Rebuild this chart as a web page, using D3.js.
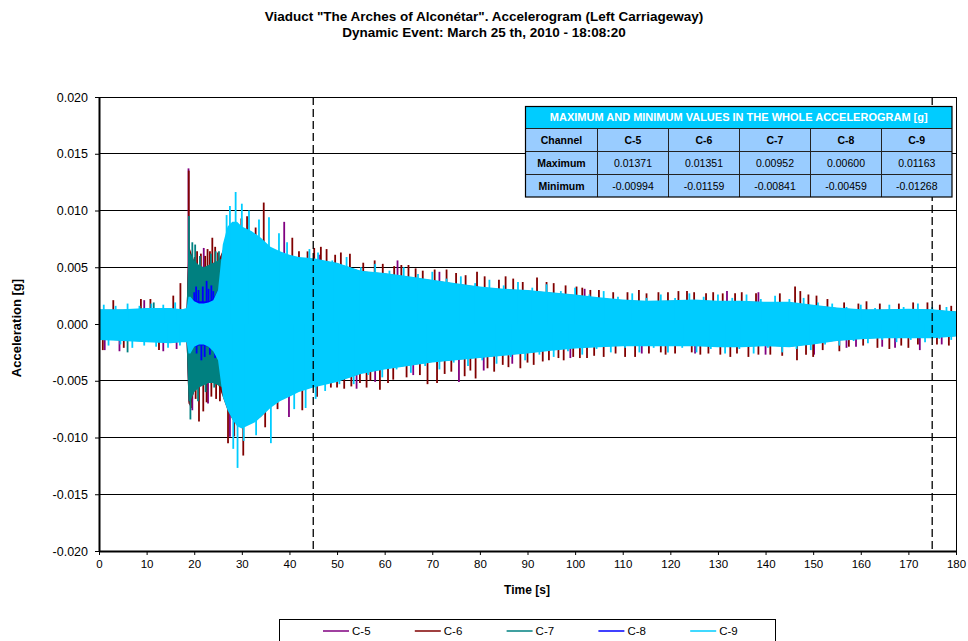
<!DOCTYPE html>
<html>
<head>
<meta charset="utf-8">
<script src="https://cdn.jsdelivr.net/npm/d3@7"></script>
<style>
body { margin: 0; background: #fff; }
svg { display: block; font-family: "Liberation Sans", Arial, sans-serif; }
</style>
</head>
<body>
<svg width="968" height="641"></svg>
<script>
// all series values are in milli-g (1e-3 g)
const channels = ["C-5", "C-6", "C-7", "C-8", "C-9"];
const colors = ["#800080", "#800000", "#008080", "#0000ff", "#00ccff"];

// time grid of the band bodies [s]
const envT = [0, 5, 10, 15, 17.5, 18.4, 18.8, 19.2,
  20, 21, 22, 23, 24, 25, 26, 27, 28, 29, 30, 31, 32, 33, 34,
  36, 38, 40, 42, 45,
  50, 55, 60, 65, 70, 75, 80, 85, 90, 95, 100, 105, 110, 115, 120, 125, 130, 135, 140, 145, 150, 155, 160, 165, 170, 175, 180];

const c5Top = [1.2, 1.2, 1.3, 1.3, 1.2, 1.3, 6.5, 6.0,
  5.4, 5.0, 4.8, 5.0, 5.2, 5.4, 6.2, 7.0, 7.6, 7.8, 7.8, 7.6, 7.6, 7.4, 7.3,
  6.5, 6.2, 5.9, 5.7, 5.6,
  5.3, 4.6, 4.4, 4.1, 3.8, 3.5, 3.2, 3.0, 2.9, 2.7, 2.5, 2.25, 2.05, 1.95, 2.0, 2.05, 1.95, 1.95, 1.85, 1.85, 1.6, 1.35, 1.2, 1.2, 1.25, 1.2, 1.0];
const c5Bot = [-1.3, -1.4, -1.5, -1.6, -1.5, -1.5, -6.8, -7.4,
  -5.8, -5.4, -5.2, -5.0, -5.0, -5.2, -6.2, -7.4, -8.2, -8.6, -8.6, -8.6, -8.4, -8.2, -8.0,
  -7.2, -6.6, -6.2, -5.8, -5.4,
  -5.0, -4.3, -3.9, -3.6, -3.3, -3.1, -2.9, -2.7, -2.5, -2.25, -2.05, -1.95, -1.85, -1.85, -1.85, -1.85, -1.95, -1.95, -1.85, -1.95, -1.7, -1.4, -1.25, -1.15, -1.15, -1.15, -1.0];

const c6Top = [1.25, 1.25, 1.35, 1.35, 1.25, 1.35, 7.0, 6.5,
  5.5, 5.1, 4.9, 5.1, 5.3, 5.5, 6.5, 7.5, 8.0, 8.2, 8.0, 8.0, 7.8, 7.6, 7.5,
  6.6, 6.3, 6.0, 5.8, 5.7,
  5.35, 4.65, 4.45, 4.15, 3.85, 3.55, 3.25, 3.05, 2.95, 2.75, 2.55, 2.3, 2.1, 2.0, 2.05, 2.1, 2.0, 2.0, 1.9, 1.9, 1.65, 1.4, 1.25, 1.25, 1.3, 1.25, 1.05];
const c6Bot = [-1.35, -1.45, -1.55, -1.65, -1.55, -1.55, -7.0, -7.2,
  -5.9, -5.5, -5.3, -5.1, -5.1, -5.3, -6.4, -7.6, -8.4, -8.8, -9.0, -8.8, -8.6, -8.4, -8.2,
  -7.3, -6.7, -6.3, -5.9, -5.5,
  -5.05, -4.35, -3.95, -3.65, -3.35, -3.15, -2.95, -2.75, -2.55, -2.3, -2.1, -2.0, -1.9, -1.9, -1.9, -1.9, -2.0, -2.0, -1.9, -2.0, -1.75, -1.45, -1.3, -1.2, -1.2, -1.2, -1.05];

const c7Top = [1.2, 1.2, 1.3, 1.3, 1.2, 1.3, 6.8, 6.2,
  5.6, 5.2, 5.0, 5.2, 5.4, 5.6, 5.8, 6.0, 6.2, 6.0, 5.8, 5.6, 5.4, 5.2, 5.0,
  4.6, 4.3, 4.1, 4.0, 3.9,
  3.6, 3.3, 3.1, 2.9, 2.8, 2.6, 2.5, 2.4, 2.3, 2.2, 2.0, 1.9, 1.8, 1.7, 1.7, 1.7, 1.7, 1.7, 1.6, 1.6, 1.5, 1.3, 1.2, 1.2, 1.2, 1.2, 1.1];
const c7Bot = [-1.3, -1.4, -1.5, -1.5, -1.5, -1.5, -6.8, -6.8,
  -6.0, -5.6, -5.4, -5.2, -5.2, -5.4, -5.6, -6.0, -6.2, -6.2, -6.0, -5.8, -5.6, -5.4, -5.2,
  -4.8, -4.5, -4.3, -4.1, -4.0,
  -3.7, -3.4, -3.2, -3.0, -2.8, -2.6, -2.5, -2.4, -2.2, -2.1, -2.0, -1.9, -1.8, -1.8, -1.8, -1.8, -1.8, -1.8, -1.7, -1.7, -1.6, -1.4, -1.3, -1.2, -1.2, -1.2, -1.05];

const c8Top = [1.0, 1.0, 1.1, 1.1, 1.0, 1.0, 2.3, 2.3,
  2.1, 2.0, 2.0, 2.0, 2.2, 3.0, 4.0, 4.4, 4.6, 4.4, 4.2, 4.0, 3.8, 3.6, 3.4,
  3.1, 2.9, 2.7, 2.6, 2.5,
  2.3, 2.1, 2.0, 1.9, 1.8, 1.7, 1.6, 1.5, 1.5, 1.4, 1.3, 1.3, 1.2, 1.2, 1.2, 1.2, 1.2, 1.2, 1.1, 1.1, 1.0, 0.9, 0.8, 0.8, 0.8, 0.8, 0.7];
const c8Bot = [-1.0, -1.0, -1.1, -1.1, -1.0, -1.0, -2.2, -2.2,
  -2.0, -1.9, -1.9, -2.0, -2.2, -3.0, -3.4, -3.6, -3.7, -3.6, -3.5, -3.3, -3.2, -3.0, -2.9,
  -2.7, -2.5, -2.4, -2.3, -2.2,
  -2.0, -1.9, -1.8, -1.7, -1.6, -1.5, -1.4, -1.4, -1.3, -1.3, -1.2, -1.2, -1.1, -1.1, -1.1, -1.1, -1.1, -1.1, -1.0, -1.0, -0.9, -0.8, -0.8, -0.8, -0.8, -0.8, -0.7];

const c9Top = [1.3, 1.3, 1.4, 1.4, 1.3, 1.4, 2.4, 2.4,
  2.0, 1.8, 1.8, 1.9, 2.1, 3.0, 7.0, 8.6, 9.0, 9.0, 8.6, 8.4, 8.2, 7.9, 7.6,
  6.8, 6.4, 6.1, 5.9, 5.8,
  5.4, 4.7, 4.5, 4.2, 3.9, 3.6, 3.3, 3.1, 3.0, 2.8, 2.6, 2.35, 2.15, 2.05, 2.1, 2.15, 2.05, 2.05, 1.95, 1.95, 1.7, 1.45, 1.3, 1.3, 1.35, 1.3, 1.1];
const c9Bot = [-1.4, -1.5, -1.6, -1.7, -1.6, -1.6, -2.6, -2.6,
  -2.0, -1.8, -1.8, -2.0, -2.4, -3.2, -6.4, -7.6, -8.4, -9.0, -9.2, -9.0, -8.8, -8.6, -8.2,
  -7.4, -6.8, -6.4, -6.0, -5.6,
  -5.1, -4.4, -4.0, -3.7, -3.4, -3.2, -3.0, -2.8, -2.6, -2.35, -2.15, -2.05, -1.95, -1.95, -1.95, -1.95, -2.05, -2.05, -1.95, -2.05, -1.8, -1.5, -1.35, -1.25, -1.25, -1.25, -1.1];

// single peaks standing out of the bands [t s, mg]
const c5Peaks = [[1.2, -2.3], [4.3, -2.4], [9.5, 2.1], [13.5, -2.4], [16.3, -2.2], [18.8, 13.71], [19.2, 6.1], [19.6, -7.6],
  [22.0, 6.7], [22.9, -7.0], [27.5, -9.94], [32.2, -8.3], [38.9, 9.0], [39.9, -8.2], [46.2, 6.1], [54.1, -5.7],
  [58.0, -5.1], [62.7, 5.6], [66.0, -4.5], [71.5, 4.6], [75.6, -5.1], [80.8, -4.1], [86.8, -3.5], [99.0, -3.0],
  [102.0, 3.1], [114.0, -2.6], [125.2, -2.6], [131.9, 2.9], [138.5, 2.8], [140.0, -2.7], [150.2, -2.7], [157.0, -2.1],
  [159.0, -2.0], [164.5, -2.0], [167.2, -2.1], [172.4, -2.3], [177.0, -1.8]];
const c6Peaks = [[0.8, -2.3], [3.0, 2.1], [5.2, -2.1], [8.8, 2.2], [10.8, 2.2], [12.6, -2.3], [15.6, 2.5], [17.1, 3.6],
  [18.85, 13.51], [19.3, -7.4], [20.1, 5.9], [20.3, -6.6], [20.6, 6.4], [21.0, -8.6], [21.4, 6.2], [21.9, -7.7],
  [22.3, 6.0], [22.6, -6.9], [22.8, 6.6], [23.3, 6.4], [23.6, -6.4], [23.8, 7.6], [24.4, 6.8], [24.6, -6.6],
  [25.0, 6.3], [25.4, -6.8], [27.1, -10.5], [28.4, -9.9],
  [29.9, 9.3], [30.3, -11.59], [31.1, 9.5], [32.4, 7.9], [32.9, 8.5], [34.6, 10.7], [34.9, -9.1], [37.5, -7.5],
  [40.6, 7.6], [42.0, 6.4], [42.7, -7.6], [43.8, 6.4], [45.2, 6.7], [45.8, -6.4], [46.6, 6.8], [47.8, 6.6], [48.7, -5.6],
  [49.6, 6.1], [50.0, -5.6], [50.8, 6.3], [51.5, -5.7], [52.7, 6.2], [53.0, -5.5], [54.8, -5.2], [55.5, 5.4],
  [56.2, -5.6], [57.0, -5.0], [57.9, 5.6], [59.0, -5.8], [59.6, 5.3], [60.7, -5.2], [61.8, -4.9], [62.0, 5.1],
  [63.5, 5.2], [64.6, -4.7], [65.0, 5.2], [66.5, 4.9], [67.4, -4.5], [68.0, 4.7], [69.0, -5.3], [70.5, 4.8],
  [71.0, -5.2], [72.6, -4.4], [73.0, 4.8], [74.0, -4.2], [75.0, 4.5], [76.8, -4.6], [77.0, 4.3], [78.0, -4.1],
  [79.1, -4.8], [79.4, 4.6], [81.0, 4.2], [81.6, -3.9], [83.0, -4.2], [84.0, 3.9], [84.8, -3.6], [85.4, 4.2],
  [86.0, -3.8], [87.0, 4.0], [88.5, -3.9], [89.0, 3.7], [90.0, -3.4], [91.3, -3.6], [92.0, 4.1], [93.2, -3.3],
  [94.0, 3.7], [94.5, -3.2], [95.5, 3.6], [96.5, -3.0], [97.6, -3.2], [98.0, 3.4], [99.6, -2.9], [100.3, 3.3],
  [101.0, -3.0], [101.5, 3.2], [102.5, -3.0], [103.2, 3.0], [104.0, -2.8], [105.0, 3.0], [106.0, -2.9], [108.0, 2.8],
  [108.5, -2.6], [110.5, -2.9], [111.0, 2.8], [112.6, -2.9], [113.4, 3.0], [115.0, 2.7], [115.5, -2.6], [117.5, 2.8],
  [118.0, -2.5], [119.0, -2.7], [119.5, 2.8], [121.0, -2.6], [121.7, 2.9], [123.5, 2.9], [124.5, -2.5], [125.0, 2.8],
  [126.3, -2.7], [127.5, 2.7], [128.0, -2.6], [129.0, 2.8], [130.5, -2.7], [131.0, 2.7], [132.6, -2.9], [133.6, 2.7],
  [134.0, -2.6], [135.0, 2.8], [136.4, -2.9], [138.0, 2.7], [138.5, -2.7], [141.0, -2.7], [143.0, 2.7], [143.5, -2.8],
  [146.2, 3.31], [146.6, -3.2], [147.3, 2.9], [148.5, -2.7], [149.0, 2.6], [150.0, -2.9], [150.7, 2.5], [152.0, -2.3],
  [153.0, 2.2], [155.5, -2.4], [156.5, 1.9], [157.5, -2.0], [159.5, 1.8], [160.5, -1.9], [161.2, 2.0], [163.5, -2.1],
  [164.0, 1.8], [166.0, -2.2], [168.0, 1.8], [168.5, -1.9], [170.0, -2.1], [171.0, 1.9], [172.0, -1.8], [174.0, 1.9],
  [176.0, -1.8], [176.6, 1.7], [178.5, -1.9], [179.0, 1.6]];
const c7Peaks = [[6.0, -2.5], [11.5, 1.9], [18.9, 9.52], [19.2, -8.41], [19.6, 7.2], [20.2, 7.0], [20.8, -6.8],
  [21.2, 6.0], [22.4, -6.0], [23.5, 6.2], [24.2, -5.6], [24.5, 6.4], [25.2, 6.4]];
const c8Peaks = [[20.0, 2.8], [20.4, 3.3], [20.5, -2.6], [20.9, 3.0], [21.5, -3.2], [21.8, 3.3], [22.2, -2.9],
  [22.6, 3.8], [23.0, 3.1], [23.3, -2.7], [23.6, 3.4], [24.0, 2.9], [24.4, -3.0], [27.6, 6.0], [28.5, -4.59]];
const c9Peaks = [[1, 1.7], [2, -1.9], [3.5, 1.6], [4.5, -1.8], [6, 1.8], [7, -2.1], [8.5, 1.6], [9.5, -1.9],
  [11, 1.8], [12, -2.0], [13.5, 1.7], [14.5, -2.1], [16, 1.9], [17, -1.9],
  [26.8, 9.6], [27.5, 10.4], [28.2, -11.0], [28.7, 11.63], [29.1, -12.68], [30.0, 10.6], [30.4, -10.3], [31.5, 10.0],
  [33.0, -9.8], [33.6, 9.2], [35.7, 9.4], [36.1, -10.5], [37.8, 8.0], [39.5, 7.2], [41.0, -7.5], [43.4, -7.4], [44.2, 6.6], [45.5, -6.6],
  [46, 6.3], [47.5, -5.9], [49, 5.6], [50.5, -5.3], [52, 5.9], [53.5, -5.3], [55, 5.0], [56.5, -4.5], [58, 5.3], [59.5, -4.7],
  [61, 4.7], [62.5, -4.0], [64, 5.0], [65.5, -4.3], [67, 4.4], [68.5, -3.7], [70, 4.6], [71.5, -4.0], [73, 4.0], [74.5, -3.4],
  [76, 4.2], [77.5, -3.7], [79, 3.6], [80.5, -3.2], [82, 3.9], [83.5, -3.5], [85, 3.4], [86.5, -2.9], [88, 3.7], [89.5, -3.2],
  [91, 3.2], [92.5, -2.7], [94, 3.5], [95.5, -2.9], [97, 2.9], [98.5, -2.4], [100, 3.2], [101.5, -2.7], [103, 2.6], [104.5, -2.2],
  [106, 2.9], [107.5, -2.5], [109, 2.4], [110.5, -2.1], [112, 2.7], [113.5, -2.5], [115, 2.3], [116.5, -2.1], [118, 2.6], [119.5, -2.5],
  [121, 2.3], [122.5, -2.1], [124, 2.7], [125.5, -2.5], [127, 2.4], [128.5, -2.2], [130, 2.6], [131.5, -2.6], [133, 2.3], [134.5, -2.2],
  [136, 2.6], [137.5, -2.6], [139, 2.2], [140.5, -2.1], [142, 2.5], [143.5, -2.5], [145, 2.2], [146.5, -2.2], [148, 2.3], [149.5, -2.3],
  [151, 1.9], [152.5, -1.8], [154, 1.8], [155.5, -1.9], [157, 1.5], [158.5, -1.5], [160, 1.7], [161.5, -1.7], [163, 1.4], [164.5, -1.4],
  [166, 1.7], [167.5, -1.6], [169, 1.5], [170.5, -1.4], [172, 1.8], [173.5, -1.6], [175, 1.5], [176.5, -1.3], [178, 1.5], [179, -1.4]];

const markers = [45, 175];
const xTicks = d3.range(0, 181, 10);
const yTicks = [0.020, 0.015, 0.010, 0.005, 0.000, -0.005, -0.010, -0.015, -0.020];

const tableMax = [0.01371, 0.01351, 0.00952, 0.00600, 0.01163];
const tableMin = [-0.00994, -0.01159, -0.00841, -0.00459, -0.01268];

const series = [
  {top: c5Top, bot: c5Bot, peaks: c5Peaks},
  {top: c6Top, bot: c6Bot, peaks: c6Peaks},
  {top: c7Top, bot: c7Bot, peaks: c7Peaks},
  {top: c8Top, bot: c8Bot, peaks: c8Peaks},
  {top: c9Top, bot: c9Bot, peaks: c9Peaks}
];

const svg = d3.select("svg");
const x = d3.scaleLinear().domain([0, 180]).range([99, 956]);
const y = d3.scaleLinear().domain([-0.020, 0.020]).range([551, 97]);
const ym = v => y(v / 1000);

svg.append("defs").append("clipPath").attr("id", "plot")
    .append("rect").attr("x", 99).attr("y", 97).attr("width", 857).attr("height", 454);

// title
const title = svg.append("g")
    .attr("font-weight", "bold")
    .attr("font-size", 13.5)
    .attr("text-anchor", "middle");
title.append("text").attr("x", 484).attr("y", 21)
    .text("Viaduct \"The Arches of Alconétar\". Accelerogram (Left Carriageway)");
title.append("text").attr("x", 484).attr("y", 37)
    .text("Dynamic Event: March 25 th, 2010 - 18:08:20");

// gridlines
svg.append("g")
    .attr("stroke", "#000")
    .attr("shape-rendering", "crispEdges")
    .selectAll("line")
    .data(yTicks)
    .join("line")
    .attr("x1", 99).attr("x2", 956)
    .attr("y1", d => y(d)).attr("y2", d => y(d));

// accelerogram bands, one channel over the other
const plot = svg.append("g").attr("clip-path", "url(#plot)");
series.forEach((s, k) => {
    const g = plot.append("g");
    const area = d3.area()
        .x((d, i) => x(envT[i]))
        .y0((d, i) => ym(s.bot[i]))
        .y1(d => ym(d));
    g.append("path")
        .datum(s.top)
        .attr("d", area)
        .attr("fill", colors[k]);
    g.selectAll("line")
        .data(s.peaks)
        .join("line")
        .attr("x1", d => x(d[0])).attr("x2", d => x(d[0]))
        .attr("y1", y(0)).attr("y2", d => ym(d[1]))
        .attr("stroke", colors[k])
        .attr("stroke-width", 1.8);
});

// dashed markers
svg.append("g")
    .selectAll("line")
    .data(markers)
    .join("line")
    .attr("x1", d => x(d)).attr("x2", d => x(d))
    .attr("y1", 97).attr("y2", 551)
    .attr("stroke", "#000")
    .attr("stroke-width", 1.3)
    .attr("stroke-dasharray", "8,4");

// frame
svg.append("rect")
    .attr("x", 99).attr("y", 97).attr("width", 857).attr("height", 454)
    .attr("fill", "none").attr("stroke", "#000").attr("stroke-width", 1)
    .attr("shape-rendering", "crispEdges");

// axes
const xAxis = svg.append("g")
    .attr("transform", "translate(0,551)")
    .call(d3.axisBottom(x).tickValues(xTicks).tickSize(4).tickPadding(5).tickSizeOuter(0));
const yAxis = svg.append("g")
    .attr("transform", "translate(99,0)")
    .call(d3.axisLeft(y).tickValues(yTicks).tickSize(4).tickPadding(7).tickSizeOuter(0)
        .tickFormat(d => d.toFixed(3)));
[xAxis, yAxis].forEach(a => {
    a.select(".domain").attr("stroke", "#000").attr("stroke-width", 2);
    a.selectAll("text").attr("fill", "#000").attr("font-family", "Liberation Sans, Arial, sans-serif");
});
xAxis.selectAll("text").attr("font-size", 11.5);
yAxis.selectAll("text").attr("font-size", 12.5);

svg.append("text")
    .attr("x", 527).attr("y", 594)
    .attr("text-anchor", "middle")
    .attr("font-weight", "bold").attr("font-size", 12)
    .text("Time [s]");
svg.append("text")
    .attr("transform", "translate(21,328) rotate(-90)")
    .attr("text-anchor", "middle")
    .attr("font-weight", "bold").attr("font-size", 13)
    .text("Acceleration [g]");

// table of extreme values
const tbl = svg.append("g").attr("font-size", 10.5);
const colX = [525.5, 597.5, 668.5, 739.5, 810.5, 881.5, 952];
const rowY = [106.5, 128, 151, 174, 197];
tbl.append("rect")
    .attr("x", colX[0]).attr("y", rowY[0]).attr("width", colX[6] - colX[0]).attr("height", rowY[1] - rowY[0])
    .attr("fill", "#00ccff");
tbl.append("rect")
    .attr("x", colX[0]).attr("y", rowY[1]).attr("width", colX[6] - colX[0]).attr("height", rowY[4] - rowY[1])
    .attr("fill", "#99ccff");
tbl.append("text")
    .attr("x", (colX[0] + colX[6]) / 2).attr("y", (rowY[0] + rowY[1]) / 2 + 4)
    .attr("text-anchor", "middle").attr("fill", "#fff")
    .attr("font-weight", "bold").attr("font-size", 11)
    .text("MAXIMUM AND MINIMUM VALUES IN THE WHOLE ACCELEROGRAM [g]");
const rows = [
    ["Channel"].concat(channels),
    ["Maximum"].concat(tableMax.map(v => v.toFixed(5))),
    ["Minimum"].concat(tableMin.map(v => v.toFixed(5)))
];
rows.forEach((r, ri) => {
    r.forEach((c, ci) => {
        tbl.append("text")
            .attr("x", (colX[ci] + colX[ci + 1]) / 2)
            .attr("y", (rowY[ri + 1] + rowY[ri + 2]) / 2 + 4)
            .attr("text-anchor", "middle")
            .attr("fill", "#000")
            .attr("font-weight", ri === 0 || ci === 0 ? "bold" : "normal")
            .text(c);
    });
});
const tl = tbl.append("g").attr("stroke", "#222").attr("stroke-width", 1).attr("shape-rendering", "crispEdges");
rowY.slice(1, 4).forEach(v => tl.append("line").attr("x1", colX[0]).attr("x2", colX[6]).attr("y1", v).attr("y2", v));
colX.slice(1, 6).forEach(v => tl.append("line").attr("x1", v).attr("x2", v).attr("y1", rowY[1]).attr("y2", rowY[4]));
tbl.append("rect")
    .attr("x", colX[0]).attr("y", rowY[0]).attr("width", colX[6] - colX[0]).attr("height", rowY[4] - rowY[0])
    .attr("fill", "none").attr("stroke", "#000").attr("stroke-width", 1.2);

// legend
const leg = svg.append("g");
leg.append("rect")
    .attr("x", 279.5).attr("y", 619.5).attr("width", 496).attr("height", 30)
    .attr("fill", "#fff").attr("stroke", "#000").attr("stroke-width", 1);
const item = leg.selectAll("g.item")
    .data(channels)
    .join("g")
    .attr("class", "item")
    .attr("transform", (d, i) => `translate(${323 + i * 91.8},631)`);
item.append("line")
    .attr("x1", 0).attr("x2", 26)
    .attr("stroke", (d, i) => colors[i]).attr("stroke-width", 1.5);
item.append("text")
    .attr("x", 29).attr("dy", "0.35em")
    .attr("font-size", 11.5)
    .text(d => d);
</script>
</body>
</html>
